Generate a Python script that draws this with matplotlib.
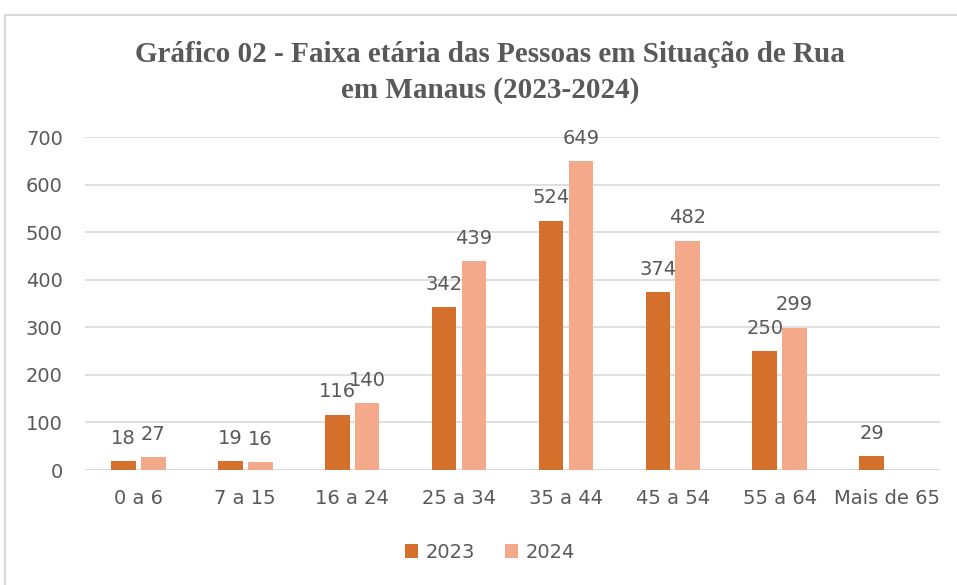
import numpy as np
import matplotlib.pyplot as plt
from matplotlib.patches import Rectangle

# data
categories = ["0 a 6", "7 a 15", "16 a 24", "25 a 34", "35 a 44", "45 a 54", "55 a 64", "Mais de 65"]
values_2023 = [18, 19, 116, 342, 524, 374, 250, 29]
values_2024 = [27, 16, 140, 439, 649, 482, 299, None]
series_names = ["2023", "2024"]

color_2023 = "#D4702C"
color_2024 = "#F3A98A"
text_color = "#595959"

fig = plt.figure(figsize=(9.57, 5.85), dpi=100)
ax = fig.add_axes([85 / 957, 1 - 470 / 585, 855 / 957, 333 / 585])

# outer chart frame (light gray border)
fig.patches.append(Rectangle((5 / 957, -0.1), 1.2, 1 - 15 / 585 + 0.1,
                             transform=fig.transFigure, fill=False,
                             edgecolor="#D9D9D9", linewidth=1.5))

x = np.arange(len(categories))
w = 0.23
off = 0.14

h24 = [v if v is not None else 0 for v in values_2024]
b1 = ax.bar(x - off, values_2023, w, color=color_2023, label=series_names[0], zorder=3)
b2 = ax.bar(x + off, h24, w, color=color_2024, label=series_names[1], zorder=3)

# data labels
for xi, v in zip(x, values_2023):
    ax.text(xi - off, v + 28, str(v), ha="center", va="bottom", fontsize=14, color=text_color)
for xi, v in zip(x, values_2024):
    if v is not None:
        ax.text(xi + off, v + 28, str(v), ha="center", va="bottom", fontsize=14, color=text_color)

ax.set_xlim(-0.5, len(categories) - 0.5)
ax.set_ylim(0, 700)
ax.set_yticks(range(0, 701, 100))
ax.set_xticks(x)
ax.set_xticklabels(categories)
ax.tick_params(axis="both", length=0, labelsize=14, labelcolor=text_color)
ax.tick_params(axis="y", pad=16)
ax.tick_params(axis="x", pad=14)
ax.yaxis.grid(True, color="#D9D9D9", linewidth=1.2, zorder=0)
for s in ax.spines.values():
    s.set_visible(False)
ax.axhline(0, color="#D9D9D9", linewidth=1.2, zorder=1)

fig.text(490 / 957, 1 - 55 / 585, "Gráfico 02 - Faixa etária das Pessoas em Situação de Rua",
         ha="center", va="center", fontsize=21, fontweight="bold",
         family="Liberation Serif", color=text_color)
fig.text(490 / 957, 1 - 90 / 585, "em Manaus (2023-2024)",
         ha="center", va="center", fontsize=21, fontweight="bold",
         family="Liberation Serif", color=text_color)

fig.legend(handles=[b1, b2], labels=series_names, loc="center",
           bbox_to_anchor=(490 / 957, 1 - 552 / 585), ncol=2, frameon=False,
           fontsize=14, handlelength=0.7, handleheight=0.7, columnspacing=1.5,
           handletextpad=0.4, labelcolor=text_color)

fig.savefig("out.png", dpi=100)
